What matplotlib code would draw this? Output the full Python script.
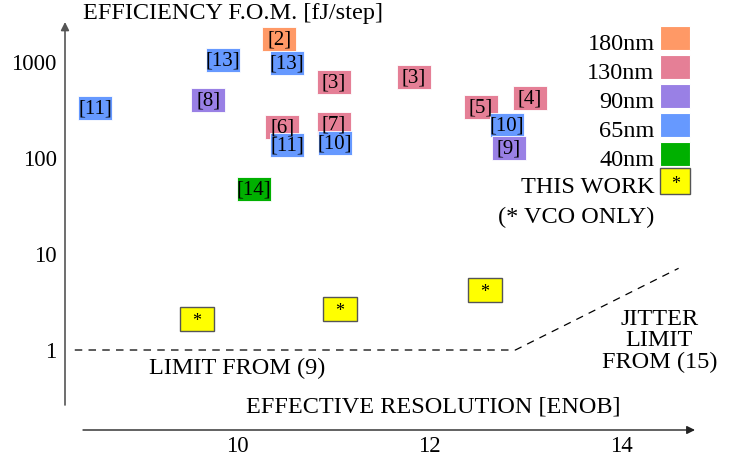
import matplotlib.pyplot as plt
from matplotlib.patches import Rectangle

plt.rcParams['font.family'] = ['Liberation Serif', 'DejaVu Serif']

# published designs: label, node, ENOB, FOM [fJ/step]
labels = ["[11]", "[13]", "[2]", "[13]", "[8]", "[3]", "[3]", "[6]", "[7]",
          "[11]", "[10]", "[14]", "[5]", "[4]", "[10]", "[9]"]
nodes = ["65nm", "65nm", "180nm", "65nm", "90nm", "130nm", "130nm", "130nm",
         "130nm", "65nm", "65nm", "40nm", "130nm", "130nm", "65nm", "90nm"]
enob = [8.52, 9.85, 10.44, 10.52, 9.70, 11.01, 11.84, 10.47, 11.01,
        10.52, 11.02, 10.18, 12.54, 13.05, 12.81, 12.83]
fom = [331, 1050, 1738, 976, 402, 619, 698, 210, 226,
       136, 143, 47.5, 340, 422, 221, 127]

# this work
tw_enob = [9.58, 11.07, 12.58]
tw_fom = [2.10, 2.67, 4.22]

# limit lines
lim_x = [8.31, 12.9, 14.6]
lim_y = [1.0, 1.0, 7.1]

legend_nodes = ["180nm", "130nm", "90nm", "65nm", "40nm"]
colors = {"180nm": "#FF9966", "130nm": "#E57F96", "90nm": "#9980E5",
          "65nm": "#6699FF", "40nm": "#00B000"}

FS = 17.5

fig = plt.figure(figsize=(7.44, 4.62), dpi=100)
ax = fig.add_axes([65 / 744, 32 / 462, 630 / 744, 408 / 462])
ax.set_yscale("log")
ax.set_xlim(8.2083, 14.7708)
ax.set_ylim(10 ** -0.8333, 10 ** 3.4167)
for s in ax.spines.values():
    s.set_visible(False)
ax.set_xticks([10, 12, 14])
ax.set_yticks([1, 10, 100, 1000])
ax.set_yticklabels(["1", "10", "100", "1000"])
ax.minorticks_off()
ax.tick_params(length=0, labelsize=16.5, pad=6)
ax.tick_params(axis="x", pad=4)

# axis arrows
ax.annotate("", xy=(0, 1), xytext=(0, 25 / 408), xycoords="axes fraction",
            arrowprops=dict(arrowstyle="-|>", color="#555555", lw=1.2,
                            mutation_scale=12, shrinkA=0, shrinkB=0))
ax.annotate("", xy=(1, 0), xytext=(18 / 630, 0), xycoords="axes fraction",
            arrowprops=dict(arrowstyle="-|>", color="#222222", lw=1.0,
                            mutation_scale=12, shrinkA=0, shrinkB=0))

hw = 0.177
hh = 10 ** 0.125
for lab, n, x, y in zip(labels, nodes, enob, fom):
    ax.add_patch(Rectangle((x - hw, y / hh), 2 * hw, y * hh - y / hh,
                           facecolor=colors[n], edgecolor="white", lw=0.6))
    ax.text(x, y / 1.02, lab, ha="center", va="center", fontsize=15)

for x, y in zip(tw_enob, tw_fom):
    ax.add_patch(Rectangle((x - hw, y / hh), 2 * hw, y * hh - y / hh,
                           facecolor="#FFFF00", edgecolor="#555555", lw=1.0))
    ax.text(x, y * 0.94, "*", ha="center", va="center", fontsize=13)

ax.plot(lim_x, lim_y, color="black", lw=0.9, dashes=(6, 5))

# legend drawn by hand
lx = 14.41
for i, n in enumerate(legend_nodes):
    yc = 10 ** (3 - (38 + 29 * i - 62) / 96)
    bot = yc / 10 ** 0.13
    ax.add_patch(Rectangle((lx, bot), 0.31, yc * 10 ** 0.13 - bot,
                           facecolor=colors[n], edgecolor="white", lw=0.8,
                           clip_on=False))
    ax.text(lx - 0.06, bot * 10 ** 0.01, n, ha="right", va="baseline", fontsize=FS)
yc = 10 ** (3 - (181 - 62) / 96)
bot = yc / 10 ** 0.135
ax.add_patch(Rectangle((lx, bot), 0.31, yc * 10 ** 0.135 - bot,
                       facecolor="#FFFF00", edgecolor="#555555", lw=1.0, clip_on=False))
ax.text(lx + 0.155, yc * 0.93, "*", ha="center", va="center", fontsize=13)
ax.text(lx - 0.06, bot * 10 ** 0.01, "THIS WORK", ha="right", va="baseline", fontsize=FS)
ax.text(lx - 0.06, 10 ** (3 - (223 - 62) / 96), "(* VCO ONLY)", ha="right",
        va="baseline", fontsize=FS)

ax.text(83 / 744, 448 / 462, "EFFICIENCY F.O.M. [fJ/step]", transform=fig.transFigure,
        ha="left", va="center", fontsize=FS)
ax.text(433 / 744, 55 / 462, "EFFECTIVE RESOLUTION [ENOB]", transform=fig.transFigure,
        ha="center", va="center", fontsize=FS)
ax.text(10.0, 10 ** (3 - (368 - 62) / 96), "LIMIT FROM (9)", ha="center", va="center",
        fontsize=FS)
ax.text(14.4, 10 ** (3 - (341 - 62) / 96), "JITTER\nLIMIT\nFROM (15)", ha="center",
        va="center", fontsize=FS, linespacing=1.0)

fig.savefig("out.png", dpi=100)
